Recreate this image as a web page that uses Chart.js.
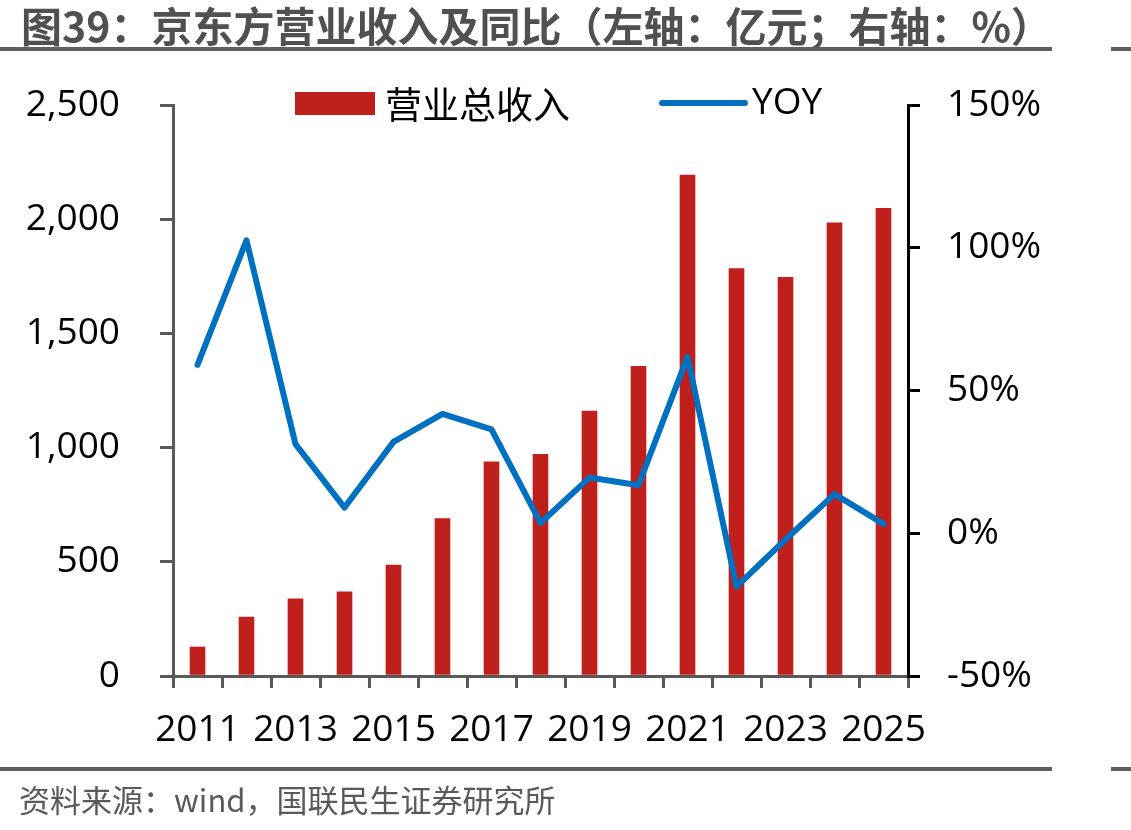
<!DOCTYPE html>
<html>
<head>
<meta charset="utf-8">
<script src="https://cdn.jsdelivr.net/npm/chart.js@4.4.1/dist/chart.umd.min.js"></script>
<style>
  html, body { margin: 0; padding: 0; background: #fff; }
  #wrap { position: relative; width: 1131px; height: 830px; overflow: hidden; }
  #c { position: absolute; left: 0; top: 0; }
  .title { position: absolute; left: 21px; top: 0px; font-family: "Noto Sans CJK SC", sans-serif; font-weight: bold; font-size: 41px; color: #505050; white-space: nowrap; line-height: 48px; }
  .rule { position: absolute; height: 4px; background: #5f5f5f; }
  .source { position: absolute; left: 19px; top: 780px; font-family: "Noto Sans CJK SC", sans-serif; font-size: 31px; color: #595959; white-space: nowrap; line-height: 38px; }
</style>
</head>
<body>
<div id="wrap">
  <canvas id="c" width="1131" height="830"></canvas>
  <div class="title">图39：京东方营业收入及同比（左轴：亿元；右轴：%）</div>
  <div class="rule" style="left:0;top:47px;width:1052px;"></div>
  <div class="rule" style="left:1111px;top:47px;width:20px;"></div>
  <div class="rule" style="left:0;top:767px;width:1052px;"></div>
  <div class="rule" style="left:1111px;top:767px;width:20px;"></div>
  <div class="source">资料来源：wind，国联民生证券研究所</div>
</div>
<script>
const years = ['2011','2012','2013','2014','2015','2016','2017','2018','2019','2020','2021','2022','2023','2024','2025'];
const revenue = [127, 258, 338, 368, 486, 689, 938, 971, 1160, 1356, 2193, 1784, 1746, 1984, 2048];
const yoy = [59.0, 102.6, 31.2, 9.0, 32.0, 41.8, 36.4, 3.6, 19.5, 16.8, 61.8, -18.7, -2.2, 13.7, 3.3];
const leftTicks = [0, 500, 1000, 1500, 2000, 2500];
const rightTicks = [-50, 0, 50, 100, 150];

const tickFont = { family: '"Open Sans", "Noto Sans CJK SC", sans-serif', size: 37 };

const legendPlugin = {
  id: 'customLegend',
  afterDraw(chart) {
    const ctx = chart.ctx;
    const ds = chart.data.datasets;
    const bar = ds.find(d => d.type === 'bar');
    const line = ds.find(d => d.type === 'line');
    ctx.save();
    ctx.font = '37px "Noto Sans CJK SC", "Open Sans", sans-serif';
    ctx.textBaseline = 'middle';
    ctx.fillStyle = bar.backgroundColor;
    ctx.fillRect(295, 92, 80, 23);
    ctx.fillStyle = '#000';
    ctx.fillText(bar.label, 385, 105);
    ctx.strokeStyle = line.borderColor;
    ctx.lineWidth = 6;
    ctx.lineCap = 'round';
    ctx.beginPath();
    ctx.moveTo(662, 103);
    ctx.lineTo(745, 103);
    ctx.stroke();
    ctx.font = '37px "Open Sans", sans-serif';
    ctx.fillStyle = '#000';
    ctx.fillText(line.label, 752, 103);
    ctx.restore();
  }
};

new Chart(document.getElementById('c'), {
  data: {
    labels: years,
    datasets: [
      {
        type: 'line', label: 'YOY', data: yoy, yAxisID: 'y1',
        borderColor: '#0070C0', backgroundColor: '#0070C0', borderWidth: 6,
        pointRadius: 0, tension: 0, order: 0, borderJoinStyle: 'round', borderCapStyle: 'round'
      },
      {
        type: 'bar', label: '营业总收入', data: revenue, yAxisID: 'y',
        backgroundColor: '#C0201B', barThickness: 15, order: 1
      }
    ]
  },
  options: {
    responsive: false,
    animation: false,
    devicePixelRatio: 1,
    layout: { padding: { top: 105, left: 0, right: 0, bottom: 0 } },
    plugins: { legend: { display: false }, tooltip: { enabled: false } },
    scales: {
      x: {
        type: 'category',
        offset: true,
        grid: { offset: true, drawOnChartArea: false, drawTicks: true, tickLength: 12, color: '#595959', lineWidth: 3 },
        border: { display: true, color: '#595959', width: 3 },
        ticks: {
          autoSkip: false, maxRotation: 0, minRotation: 0, padding: 20,
          color: '#000', font: tickFont,
          callback: function(v, i) { return i % 2 === 0 ? this.getLabelForValue(v) : ''; }
        },
        afterFit(scale) { scale.height = 154; }
      },
      y: {
        position: 'left', min: 0, max: 2500,
        afterBuildTicks(scale) { scale.ticks = leftTicks.map(v => ({ value: v })); },
        grid: { drawOnChartArea: false, drawTicks: true, tickLength: 13, color: '#595959', lineWidth: 3 },
        border: { display: true, color: '#595959', width: 3 },
        ticks: { color: '#000', font: tickFont, padding: 40,
          callback: v => v.toLocaleString('en-US') },
        afterFit(scale) { scale.width = 173; }
      },
      y1: {
        position: 'right', min: -50, max: 150,
        afterBuildTicks(scale) { scale.ticks = rightTicks.map(v => ({ value: v })); },
        grid: { drawOnChartArea: false, drawTicks: true, tickLength: 12, color: '#000', lineWidth: 3 },
        border: { display: true, color: '#000', width: 3 },
        ticks: { color: '#000', font: tickFont, padding: 27, callback: v => v + '%' },
        afterFit(scale) { scale.width = 223; }
      }
    }
  },
  plugins: [legendPlugin]
});
</script>
</body>
</html>
